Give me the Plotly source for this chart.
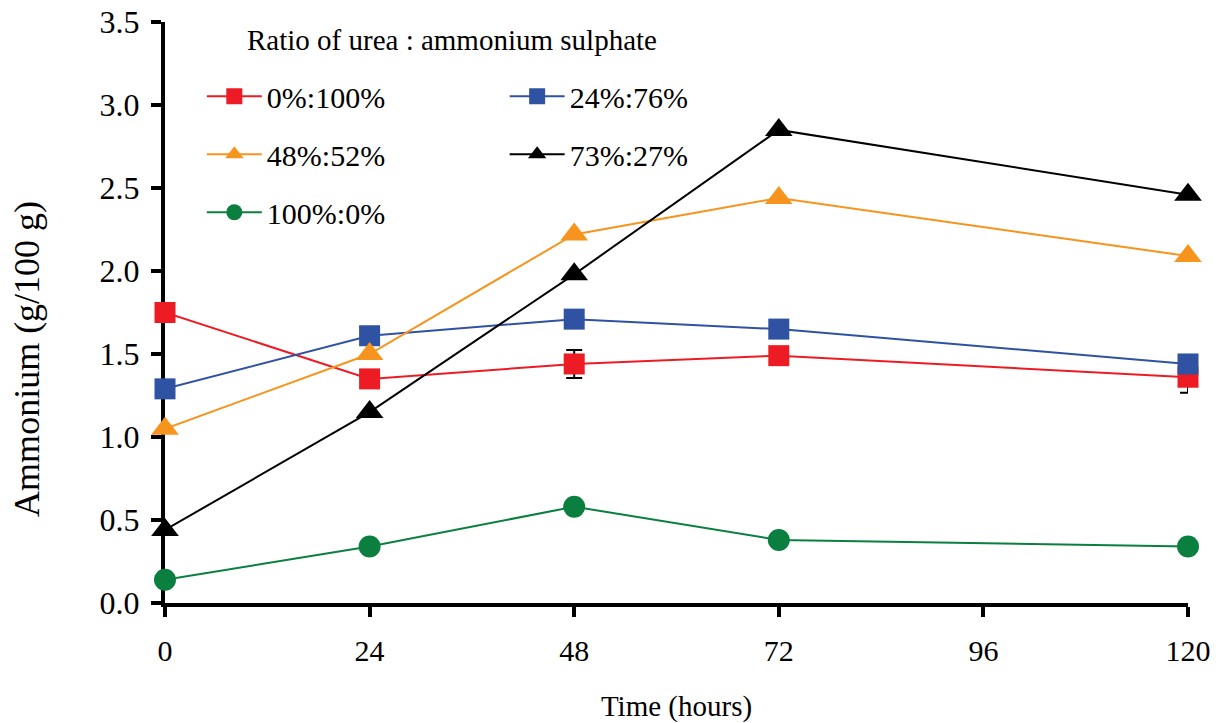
import plotly.graph_objects as go

# Sampling times (hours)
hours = [0, 24, 48, 72, 120]
x_ticks = [0, 24, 48, 72, 96, 120]

# Ammonium content (g/100 g) for each urea : ammonium sulphate ratio
labels = ["0%:100%", "24%:76%", "48%:52%", "73%:27%", "100%:0%"]
r0_100 = [1.75, 1.35, 1.44, 1.49, 1.36]
r24_76 = [1.29, 1.61, 1.71, 1.65, 1.44]
r48_52 = [1.05, 1.50, 2.22, 2.44, 2.09]
r73_27 = [0.44, 1.15, 1.98, 2.85, 2.46]
r100_0 = [0.14, 0.34, 0.58, 0.38, 0.34]
r0_100_err = [0.0, 0.0, 0.084, 0.0, 0.094]

FONT = "Liberation Serif"

styles = [
    (r0_100, "#ED1C24", "square", 21, "legend"),
    (r24_76, "#2F52A3", "square", 21, "legend2"),
    (r48_52, "#F7941D", "triangle-up", 24, "legend"),
    (r73_27, "#000000", "triangle-up", 24, "legend2"),
    (r100_0, "#0B7F3F", "circle", 22, "legend"),
]

fig = go.Figure()
for i, (vals, color, symbol, size, leg) in enumerate(styles):
    err = None
    if i == 0:
        err = dict(type="data", array=r0_100_err, visible=True,
                   color="black", thickness=2, width=8)
    fig.add_trace(go.Scatter(
        x=hours, y=vals, name=labels[i], mode="lines+markers",
        line=dict(color=color, width=2),
        marker=dict(color=color, symbol=symbol, size=size,
                    line=dict(width=0)),
        error_y=err, cliponaxis=False, legend=leg, legendgroup=labels[i],
    ))

axis_common = dict(
    showline=True, linewidth=4, linecolor="black", mirror=False,
    ticks="outside", ticklen=10, tickwidth=4, tickcolor="black",
    showgrid=False, zeroline=False, layer="below traces", automargin=False,
)

legend_common = dict(
    font=dict(family=FONT, size=30, color="black"),
    bgcolor="rgba(0,0,0,0)", borderwidth=0,
    yanchor="top", xanchor="left", tracegroupgap=16,
    itemwidth=55, traceorder="grouped",
)

fig.update_layout(
    width=1223, height=723,
    margin=dict(l=165, r=35, t=22, b=120),
    plot_bgcolor="white", paper_bgcolor="white",
    xaxis=dict(range=[0, 120], tickvals=x_ticks, ticklabelstandoff=8,
               tickfont=dict(family=FONT, size=30, color="black"),
               title=dict(text="Time (hours)",
                          font=dict(family=FONT, size=29, color="black"),
                          standoff=33),
               **axis_common),
    yaxis=dict(range=[0, 3.5], dtick=0.5, tick0=0, tickformat=".1f",
               ticklabelstandoff=5,
               tickfont=dict(family=FONT, size=32, color="black"),
               **axis_common),
    legend=dict(x=0.036, y=0.917, **legend_common),
    legend2=dict(x=0.332, y=0.917, **legend_common),
    annotations=[
        dict(text="Ratio of urea : ammonium sulphate", xref="paper", yref="paper",
             x=0.078, y=0.969, xanchor="left", yanchor="middle", showarrow=False,
             font=dict(family=FONT, size=29, color="black")),
        dict(text="Ammonium (g/100 g)", xref="paper", yref="paper",
             x=-0.135, y=0.42, xanchor="center", yanchor="middle", showarrow=False,
             textangle=-90, font=dict(family=FONT, size=36, color="black")),
    ],
)

fig.write_html("out.html")
